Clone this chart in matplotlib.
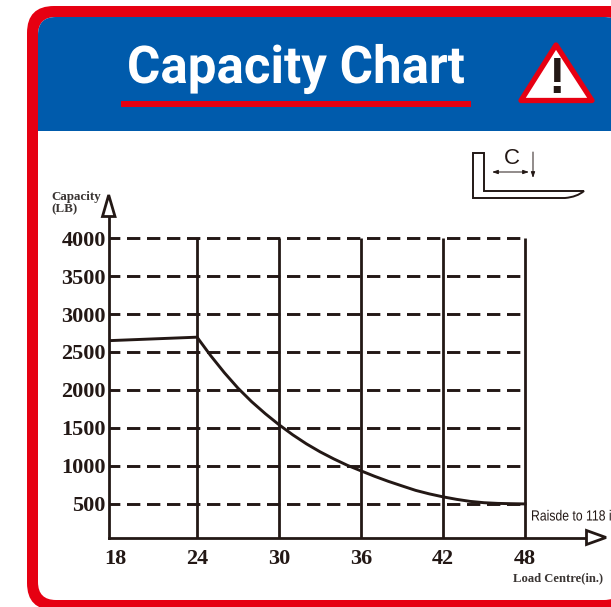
import matplotlib
matplotlib.use("Agg")
import matplotlib.pyplot as plt
from matplotlib.patches import FancyBboxPatch, Rectangle, Polygon, PathPatch
from matplotlib.path import Path
from matplotlib.patheffects import AbstractPathEffect
from matplotlib.transforms import Affine2D

# curve
load_centre = [17.52, 24, 25, 26, 27, 28, 29, 30, 31, 32, 33, 34, 35, 36, 37, 38, 39, 40, 41, 42, 43, 44, 45, 46, 47, 48]
capacity = [2649, 2695, 2451, 2227, 2023, 1845, 1687, 1542, 1410, 1291, 1186, 1093, 1008, 935, 863, 797, 737, 678, 632, 593, 560, 533, 516, 507, 503, 500]
x_ticks = [18, 24, 30, 36, 42, 48]
y_ticks = [500, 1000, 1500, 2000, 2500, 3000, 3500, 4000]
v_lines = [24, 30, 36, 42, 48]

W, H = 611, 607
BLACK = "#231815"
GREY = "#3a3533"
RED = "#E60012"
BLUE = "#005BAC"
plt.rcParams["lines.scale_dashes"] = False


# no condensed font installed, so squeeze the glyphs sideways around x0 (pixels)
class Squeeze(AbstractPathEffect):
    def __init__(self, x0, sx):
        super().__init__()
        self.x0 = x0
        self.sx = sx

    def draw_path(self, renderer, gc, tpath, affine, rgbFace=None):
        t = affine + Affine2D().translate(-self.x0, 0).scale(self.sx, 1).translate(self.x0, 0)
        renderer.draw_path(gc, tpath, t, rgbFace)


fig = plt.figure(figsize=(W / 100, H / 100), dpi=100, facecolor="white")

# overlay in pixels for frame, header and icons
bg = fig.add_axes([0, 0, 1, 1])
bg.set_xlim(0, W)
bg.set_ylim(H, 0)
bg.axis("off")

bg.add_patch(FancyBboxPatch((27, 6), 620, 604, boxstyle="round,pad=0,rounding_size=27", fc=RED, ec="none"))
inner = FancyBboxPatch((38, 17), 584, 583, boxstyle="round,pad=0,rounding_size=18", fc="white", ec="none")
bg.add_patch(inner)
head = Rectangle((30, 10), 600, 121, fc=BLUE, ec="none")
bg.add_patch(head)
head.set_clip_path(inner)

title = bg.text(296, 83, "Capacity Chart", color="white", fontsize=37.5, fontweight="bold",
                family="Roboto", ha="center", va="baseline")
title.set_path_effects([Squeeze(296, 0.98)])
bg.add_patch(Rectangle((121, 101), 350, 6, fc=RED, ec="none"))

# warning sign
bg.add_patch(Polygon([(556, 45), (521, 100.5), (592, 100.5)], closed=True, fc="white", ec=RED, lw=3.8, joinstyle="round"))
bg.text(556.5, 80, "!", color=BLACK, fontsize=36, fontweight="bold", family="Liberation Sans", ha="center", va="center")

# fork sketch
fork = Path([(473, 153), (484, 153), (484, 191), (584, 191), (577, 197), (565, 198), (473, 198), (473, 153)],
            [Path.MOVETO, Path.LINETO, Path.LINETO, Path.LINETO, Path.CURVE3, Path.CURVE3, Path.LINETO, Path.CLOSEPOLY])
bg.add_patch(PathPatch(fork, fc="white", ec=BLACK, lw=1.4))
bg.text(512, 159, "C", color=BLACK, fontsize=16, family="Liberation Sans", ha="center", va="center")
bg.annotate("", xy=(492, 172), xytext=(529, 172), arrowprops=dict(arrowstyle="<|-|>,head_length=0.35,head_width=0.12", color=BLACK, lw=0.7, shrinkA=0, shrinkB=0))
bg.annotate("", xy=(533, 178), xytext=(533, 152), arrowprops=dict(arrowstyle="-|>,head_length=0.35,head_width=0.12", color=BLACK, lw=0.7, shrinkA=0, shrinkB=0))

# chart
left, right, top, bottom = 108.5, 586, 217, 537.5
ax = fig.add_axes([left / W, 1 - bottom / H, (right - left) / W, (bottom - top) / H])
ax.patch.set_alpha(0)
ax.set_xlim(17.52, 52.46)
ax.set_ylim(58, 4277)

ax.hlines(y_ticks, 17.52, 48, color=BLACK, lw=2.1, linestyles=[(1.8, (9.6, 4.8))])
ax.vlines(v_lines, 58, 4000, color=BLACK, lw=2.0)
ax.plot(load_centre, capacity, color=BLACK, lw=2.1, solid_joinstyle="round")

for s in ["top", "right"]:
    ax.spines[s].set_visible(False)
for s in ["left", "bottom"]:
    ax.spines[s].set_color(BLACK)
    ax.spines[s].set_linewidth(2.0)

ax.set_xticks(x_ticks)
ax.set_yticks(y_ticks)
ax.tick_params(length=0)
ax.tick_params(axis="x", pad=8)
ax.tick_params(axis="y", pad=2)
for t in ax.get_xticklabels() + ax.get_yticklabels():
    t.set_family("Liberation Serif")
    t.set_fontweight("bold")
    t.set_fontsize(16)
    t.set_color(BLACK)

# arrow heads and small labels on top
fg = fig.add_axes([0, 0, 1, 1], zorder=5)
fg.set_xlim(0, W)
fg.set_ylim(H, 0)
fg.axis("off")
fg.add_patch(Polygon([(108.7, 195), (102.5, 216.5), (115, 216.5)], closed=True, fc="white", ec=BLACK, lw=2.0))
fg.add_patch(Polygon([(586.5, 530.5), (606, 537.5), (586.5, 544.5)], closed=True, fc="white", ec=BLACK, lw=2.0))

fg.text(51, 200, "Capacity", color=GREY, fontsize=9.4, fontweight="bold", family="Liberation Serif", ha="left", va="baseline")
fg.text(51, 212, "(LB)", color=GREY, fontsize=9.4, fontweight="bold", family="Liberation Serif", ha="left", va="baseline")
fg.text(513, 581.5, "Load Centre(in.)", color=GREY, fontsize=9.1, fontweight="bold", family="Liberation Serif", ha="left", va="baseline")
raise_txt = fg.text(531, 520.5, "Raisde to 118 in", color=BLACK, fontsize=10.6, family="Liberation Sans", ha="left", va="baseline")
raise_txt.set_path_effects([Squeeze(531, 0.83)])

fig.savefig("out.png", dpi=100)
